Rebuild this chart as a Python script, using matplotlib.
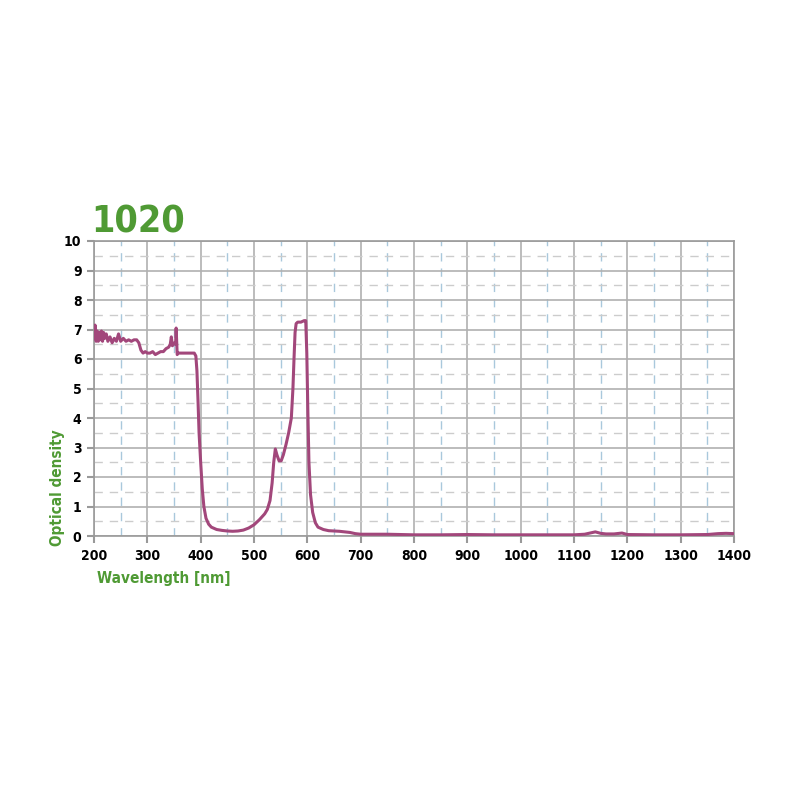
import matplotlib
matplotlib.use('Agg')
import matplotlib.pyplot as plt
from matplotlib.ticker import MultipleLocator

plt.rcParams['font.family'] = ['Liberation Sans Narrow', 'DejaVu Sans']
plt.rcParams['font.stretch'] = 'condensed'

# transmission curve
wavelength = [200, 202, 204, 206, 208, 210, 212, 214, 216, 218, 220, 223, 226, 230, 234,
              238, 242, 246, 250, 255, 260, 265, 270, 275, 280, 284, 288, 292, 296, 300,
              305, 310, 315, 320, 325, 330, 335, 340, 343, 345, 347, 349, 351, 353, 354,
              355, 356, 358, 362, 370, 380, 388, 391, 393, 395, 397, 400, 403, 406, 410,
              415, 420, 430, 440, 450, 460, 470, 480, 490, 500, 510, 520, 525, 530, 534,
              537, 540, 543, 547, 551, 555, 560, 565, 570, 573, 575, 577, 579, 582, 588,
              594, 597, 599, 601, 603, 606, 610, 615, 620, 630, 640, 660, 680, 690, 700,
              750, 800, 850, 900, 950, 1000, 1050, 1100, 1120, 1130, 1140, 1150, 1160,
              1175, 1190, 1200, 1250, 1300, 1350, 1370, 1385, 1400]
optical_density = [6.7, 7.15, 6.6, 6.95, 6.6, 6.9, 6.65, 6.95, 6.6, 6.9, 6.7, 6.85, 6.6,
                   6.75, 6.55, 6.7, 6.6, 6.85, 6.6, 6.7, 6.6, 6.65, 6.6, 6.65, 6.65, 6.55,
                   6.3, 6.2, 6.25, 6.2, 6.2, 6.25, 6.15, 6.2, 6.25, 6.25, 6.35, 6.4, 6.5,
                   6.75, 6.45, 6.5, 6.55, 6.5, 7.05, 6.6, 6.15, 6.2, 6.2, 6.2, 6.2, 6.2,
                   6.1, 5.6, 4.6, 3.5, 2.5, 1.6, 1.0, 0.6, 0.4, 0.3, 0.22, 0.19, 0.17, 0.16,
                   0.17, 0.2, 0.27, 0.38, 0.55, 0.75, 0.9, 1.2, 1.8, 2.5, 2.95, 2.75, 2.55,
                   2.55, 2.75, 3.1, 3.5, 4.0, 5.0, 6.0, 6.9, 7.2, 7.25, 7.25, 7.3, 7.3, 6.2,
                   4.2, 2.5, 1.4, 0.8, 0.45, 0.3, 0.22, 0.18, 0.16, 0.12, 0.08, 0.06, 0.06,
                   0.04, 0.04, 0.05, 0.04, 0.04, 0.04, 0.04, 0.06, 0.1, 0.14, 0.09, 0.07,
                   0.07, 0.1, 0.05, 0.04, 0.04, 0.05, 0.08, 0.09, 0.08]

title = '1020'
x_label = 'Wavelength [nm]'
y_label = 'Optical density'

green = '#4f9a34'
line_color = '#a2477b'

fig = plt.figure(figsize=(8, 8), dpi=100)
ax = fig.add_axes([0.1175, 0.33, 0.8, 0.36875])

ax.plot(wavelength, optical_density, color=line_color, linewidth=2.2, zorder=3)

ax.set_xlim(200, 1400)
ax.set_ylim(0, 10)
ax.xaxis.set_major_locator(MultipleLocator(100))
ax.xaxis.set_minor_locator(MultipleLocator(50))
ax.yaxis.set_major_locator(MultipleLocator(1))
ax.yaxis.set_minor_locator(MultipleLocator(0.5))

ax.grid(True, which='major', color='#b0b0b0', linewidth=1.2)
ax.grid(True, which='minor', axis='x', color='#a9c8dc', linestyle=(0, (6, 5)), linewidth=1)
ax.grid(True, which='minor', axis='y', color='#cccccc', linestyle=(0, (6, 5)), linewidth=1)

for s in ax.spines.values():
    s.set_color('#999999')
    s.set_linewidth(1.2)

ax.tick_params(which='major', length=5, width=1.5, color='#999999',
               labelsize=10, pad=4)
ax.tick_params(which='minor', length=0)
for lab in ax.get_xticklabels() + ax.get_yticklabels():
    lab.set_fontweight('bold')

fig.text(0.114, 0.722, title, color=green, fontsize=27, fontweight='bold',
         ha='left', va='center')
fig.text(0.121, 0.277, x_label, color=green, fontsize=11, fontweight='bold',
         ha='left', va='center')
fig.text(0.072, 0.39, y_label, color=green, fontsize=11, fontweight='bold',
         ha='center', va='center', rotation=90)

fig.savefig('out.png', dpi=100)
